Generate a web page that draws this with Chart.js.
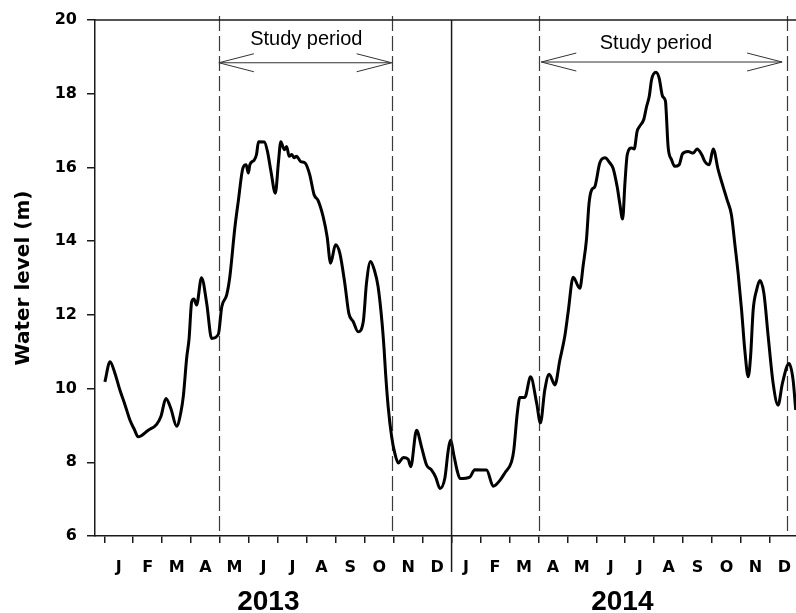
<!DOCTYPE html>
<html>
<head>
<meta charset="utf-8">
<title>Water level 2013–2014</title>
<script src="https://cdn.jsdelivr.net/npm/chart.js@4.4.1/dist/chart.umd.min.js"></script>
<style>
  html, body { margin: 0; padding: 0; background: #fff; overflow: hidden; }
  #wrap { width: 796px; height: 613px; }
</style>
</head>
<body>
<div id="wrap"><canvas id="chart" width="796" height="613"></canvas></div>
<script>
// Time axis in months since 1 Jan 2013 (0 = 1 Jan 2013, 12 = 1 Jan 2014)
const months = [
  0.02, 0.20, 0.37, 0.54, 0.72, 0.89, 1.04, 1.17, 1.52, 1.81, 1.96, 2.13, 2.30, 2.50, 2.65, 2.73,
  2.85, 2.93, 3.02, 3.10, 3.19, 3.36, 3.54, 3.71, 3.94, 4.06, 4.23, 4.34, 4.51, 4.63, 4.79, 4.90,
  4.98, 5.03, 5.18, 5.26, 5.33, 5.53, 5.64, 5.76, 5.91, 6.02, 6.10, 6.22, 6.30, 6.39, 6.48, 6.56,
  6.64, 6.79, 6.94, 7.10, 7.25, 7.39, 7.56, 7.70, 7.82, 7.99, 8.14, 8.31, 8.45, 8.60, 8.77, 8.95,
  9.06, 9.20, 9.33, 9.46, 9.60, 9.67, 9.72, 9.81, 9.93, 10.04, 10.16, 10.33, 10.50, 10.59, 10.79, 10.96,
  11.14, 11.31, 11.45, 11.60, 11.77, 11.88, 11.96, 12.09, 12.20, 12.29, 12.63, 12.80, 13.21, 13.44, 13.67, 13.84,
  14.07, 14.15, 14.27, 14.36, 14.53, 14.73, 14.94, 15.07, 15.22, 15.37, 15.57, 15.74, 15.91, 16.03, 16.20, 16.43,
  16.55, 16.66, 16.75, 16.84, 16.95, 17.12, 17.30, 17.47, 17.58, 17.72, 17.81, 17.91, 17.99, 18.07, 18.22, 18.31,
  18.41, 18.50, 18.64, 18.74, 18.83, 18.91, 19.06, 19.17, 19.29, 19.39, 19.42, 19.48, 19.60, 19.71, 19.86, 19.98,
  20.17, 20.35, 20.48, 20.64, 20.75, 20.90, 21.04, 21.21, 21.38, 21.52, 21.67, 21.79, 21.90, 22.02, 22.13, 22.25,
  22.33, 22.42, 22.54, 22.65, 22.79, 22.94, 23.11, 23.28, 23.43, 23.66, 23.80, 23.89
];

// Water level (m)
const waterLevel = [
  10.18, 10.73, 10.41, 9.96, 9.55, 9.14, 8.89, 8.69, 8.87, 9.03, 9.25, 9.73, 9.46, 8.98, 9.37, 9.78,
  10.85, 11.35, 12.35, 12.43, 12.27, 13.01, 12.31, 11.36, 11.47, 12.22, 12.54, 13.04, 14.35, 15.08, 15.98, 16.07,
  15.85, 16.07, 16.20, 16.35, 16.70, 16.69, 16.43, 15.89, 15.30, 16.16, 16.70, 16.48, 16.57, 16.30, 16.35, 16.26,
  16.30, 16.16, 16.12, 15.80, 15.26, 15.10, 14.67, 14.12, 13.40, 13.90, 13.67, 12.86, 12.04, 11.82, 11.54, 11.82,
  12.86, 13.45, 13.22, 12.77, 11.77, 11.05, 10.41, 9.50, 8.69, 8.24, 7.98, 8.13, 8.08, 7.88, 8.87, 8.42,
  7.92, 7.79, 7.60, 7.29, 7.58, 8.30, 8.60, 8.15, 7.75, 7.56, 7.60, 7.80, 7.79, 7.35, 7.51, 7.71,
  8.01, 8.33, 9.33, 9.76, 9.76, 10.32, 9.60, 9.07, 9.96, 10.39, 10.10, 10.77, 11.41, 12.09, 13.02, 12.72,
  13.36, 14.04, 15.03, 15.39, 15.48, 16.12, 16.26, 16.12, 15.98, 15.48, 15.03, 14.60, 15.58, 16.35, 16.53, 16.50,
  16.98, 17.12, 17.30, 17.66, 17.93, 18.38, 18.58, 18.43, 17.93, 17.80, 17.45, 16.57, 16.21, 16.03, 16.07, 16.37,
  16.43, 16.39, 16.50, 16.35, 16.16, 16.07, 16.50, 15.94, 15.48, 15.12, 14.71, 13.90, 13.13, 12.13, 11.05, 10.32,
  10.86, 12.13, 12.68, 12.93, 12.59, 11.41, 10.14, 9.55, 10.14, 10.68, 10.23, 9.42
];

const monthLabels = ['J', 'F', 'M', 'A', 'M', 'J', 'J', 'A', 'S', 'O', 'N', 'D'];
const yearLabels = ['2013', '2014'];
const yTicks = [6, 8, 10, 12, 14, 16, 18, 20];

// Study periods: start and end (months since 1 Jan 2013)
const studyStart = [3.96, 15.02];
const studyEnd = [9.93, 23.60];
const studyLabel = 'Study period';

// Drawing layout (kept apart from the data)
const X_MIN = -0.32, X_MAX = 23.9;
const YEAR_LABEL_AT = [5.67, 17.9];
const ARROW = [
  { from: 3.96, to: 9.93, y: 18.84, textX: 6.98, textY: 19.31 },
  { from: 15.10, to: 23.42, y: 18.86, textX: 19.06, textY: 19.22 }
];
const AXIS_COLOR = '#1a1a1a';

const points = months.map((m, i) => ({ x: m, y: waterLevel[i] }));

const monthTickValues = [];
for (let m = 0; m < 24; m++) monthTickValues.push(m, m + 0.5);

// Horizontal axes span the full width; no extra room for edge labels
const noSidePadding = h => s => { s.height = h; s.paddingLeft = 0; s.paddingRight = 0; };

const overlay = {
  id: 'overlay',
  beforeDatasetsDraw(chart) {
    const { ctx, chartArea, scales } = chart;
    const x = scales.x;
    ctx.save();
    ctx.strokeStyle = '#3a3a3a';
    ctx.lineWidth = 1.2;
    ctx.setLineDash([15, 5]);
    [...studyStart, ...studyEnd].forEach(m => {
      const px = Math.round(x.getPixelForValue(m)) + 0.5;
      ctx.beginPath();
      ctx.moveTo(px, chartArea.top - 4);
      ctx.lineTo(px, chartArea.bottom);
      ctx.stroke();
    });
    ctx.restore();
  },
  afterDraw(chart) {
    const { ctx, chartArea, scales } = chart;
    const x = scales.x, y = scales.y;
    ctx.save();
    // top frame line
    ctx.strokeStyle = AXIS_COLOR;
    ctx.lineWidth = 1.5;
    ctx.beginPath();
    ctx.moveTo(chartArea.left, chartArea.top);
    ctx.lineTo(chartArea.right + 2, chartArea.top);
    ctx.stroke();
    // year separator
    const sx = x.getPixelForValue(12);
    ctx.beginPath();
    ctx.moveTo(sx, chartArea.top);
    ctx.lineTo(sx, chartArea.bottom + 36);
    ctx.stroke();
    // study period arrows
    ctx.strokeStyle = '#333';
    ctx.lineWidth = 1;
    ctx.fillStyle = '#000';
    ctx.font = '20px "Liberation Sans", Arial, sans-serif';
    ctx.textAlign = 'center';
    ctx.textBaseline = 'alphabetic';
    ARROW.forEach(a => {
      const x0 = x.getPixelForValue(a.from), x1 = x.getPixelForValue(a.to);
      const ay = y.getPixelForValue(a.y);
      ctx.beginPath();
      ctx.moveTo(x0, ay); ctx.lineTo(x1, ay);
      ctx.moveTo(x0 + 35, ay - 9); ctx.lineTo(x0, ay); ctx.lineTo(x0 + 35, ay + 9);
      ctx.moveTo(x1 - 35, ay - 9); ctx.lineTo(x1, ay); ctx.lineTo(x1 - 35, ay + 9);
      ctx.stroke();
      ctx.fillText(studyLabel, x.getPixelForValue(a.textX), y.getPixelForValue(a.textY));
    });
    ctx.restore();
  }
};

new Chart(document.getElementById('chart'), {
  type: 'line',
  data: {
    datasets: [{
      data: points,
      borderColor: '#000',
      borderWidth: 3,
      pointRadius: 0,
      fill: false,
      cubicInterpolationMode: 'monotone',
      tension: 0.4
    }]
  },
  options: {
    responsive: false,
    animation: false,
    devicePixelRatio: 1,
    layout: { padding: { top: 20, left: 0, right: 0, bottom: 0 } },
    plugins: { legend: { display: false }, tooltip: { enabled: false } },
    scales: {
      x: {
        type: 'linear',
        position: 'bottom',
        weight: 0,
        min: X_MIN,
        max: X_MAX,
        afterBuildTicks: s => { s.ticks = monthTickValues.map(v => ({ value: v })); },
        afterFit: noSidePadding(45),
        border: { display: true, color: AXIS_COLOR, width: 1.5 },
        grid: {
          drawOnChartArea: false,
          drawTicks: true,
          tickLength: 7,
          lineWidth: 1.5,
          color: c => (c.tick && Number.isInteger(c.tick.value)) ? AXIS_COLOR : 'rgba(0,0,0,0)'
        },
        ticks: {
          autoSkip: false,
          maxRotation: 0,
          padding: 15,
          color: '#000',
          font: { family: 'DejaVu Sans', size: 16, weight: 'bold' },
          callback: v => Number.isInteger(v) ? '' : monthLabels[Math.floor(v) % 12]
        }
      },
      year: {
        type: 'linear',
        position: 'bottom',
        axis: 'x',
        weight: 1,
        min: X_MIN,
        max: X_MAX,
        afterBuildTicks: s => { s.ticks = YEAR_LABEL_AT.map(v => ({ value: v })); },
        afterFit: noSidePadding(32),
        border: { display: false },
        grid: { display: false, drawTicks: false },
        ticks: {
          autoSkip: false,
          maxRotation: 0,
          padding: 4,
          color: '#000',
          font: { family: 'Liberation Sans', size: 28, weight: 'bold' },
          callback: (v, i) => yearLabels[i]
        }
      },
      y: {
        type: 'linear',
        position: 'left',
        min: 6,
        max: 20,
        afterBuildTicks: s => { s.ticks = yTicks.map(v => ({ value: v })); },
        afterFit: s => { s.width = 95; },
        border: { display: true, color: AXIS_COLOR, width: 1.5 },
        grid: { drawOnChartArea: false, drawTicks: true, tickLength: 8, lineWidth: 1.5, color: AXIS_COLOR },
        ticks: {
          padding: 10,
          color: '#000',
          font: { family: 'DejaVu Sans', size: 16, weight: 'bold' }
        },
        title: {
          display: true,
          text: 'Water level (m)',
          color: '#000',
          padding: { top: 12, bottom: 0 },
          font: { family: 'DejaVu Sans', size: 20, weight: 'bold' }
        }
      }
    }
  },
  plugins: [overlay]
});
</script>
</body>
</html>
